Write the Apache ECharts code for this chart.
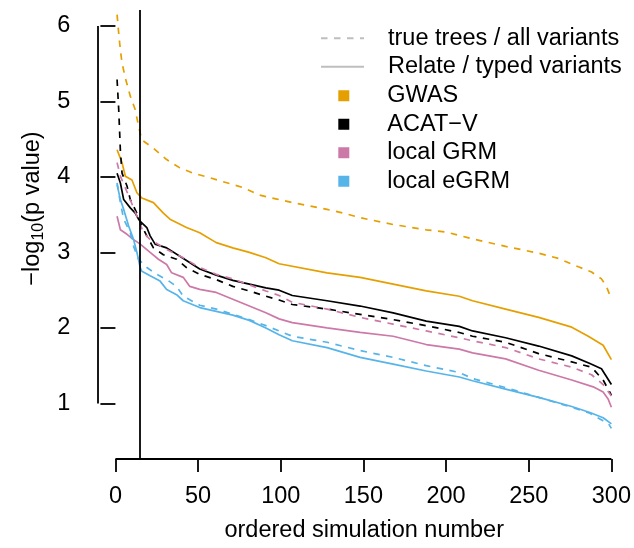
<!DOCTYPE html>
<html>
<head>
<meta charset="utf-8">
<script src="https://cdn.jsdelivr.net/npm/echarts@6/dist/echarts.min.js"></script>
<style>
html, body { margin: 0; padding: 0; background: #fff; }
#show { width: 634px; height: 548px; }
</style>
</head>
<body>
<div id="show"></div>
<script>
var myChart = echarts.init(document.getElementById("show"));

// values: [ordered simulation number, -log10(p)]
var gwasTrue = [[1,6.15],[2,5.90],[3,5.68],[4,5.51],[6,5.31],[9,5.07],[12,4.89],[14,4.67],[16,4.49],[23,4.38],[31,4.23],[39,4.12],[47,4.05],[57,3.99],[77,3.86],[87,3.76],[97,3.71],[107,3.66],[128,3.57],[138,3.52],[148,3.46],[168,3.37],[188,3.30],[200,3.27],[216,3.18],[236,3.08],[256,2.99],[268,2.92],[280,2.81],[288,2.74],[294,2.65],[297,2.55],[300,2.38]];
var gwasRelate = [[1,4.36],[4,4.19],[6,4.01],[10,3.96],[13,3.79],[16,3.72],[23,3.66],[29,3.52],[33,3.44],[43,3.33],[51,3.26],[61,3.13],[71,3.06],[81,3.00],[91,2.93],[99,2.85],[128,2.73],[148,2.67],[168,2.58],[188,2.49],[208,2.42],[216,2.36],[236,2.25],[256,2.14],[276,2.01],[286,1.89],[295,1.77],[300,1.58]];
var acatTrue = [[1,5.29],[2,4.89],[3,4.35],[4,4.05],[7,3.88],[9,3.70],[13,3.52],[16,3.35],[19,3.22],[23,3.06],[29,2.97],[37,2.91],[43,2.80],[51,2.71],[61,2.64],[71,2.55],[81,2.49],[91,2.42],[99,2.37],[107,2.31],[128,2.25],[148,2.18],[168,2.11],[188,2.03],[208,1.94],[216,1.89],[236,1.81],[256,1.66],[276,1.55],[288,1.48],[295,1.31],[300,1.11]];
var acatRelate = [[1,4.05],[3,3.92],[5,3.70],[9,3.59],[12,3.52],[14,3.44],[16,3.39],[19,3.33],[21,3.22],[24,3.11],[31,3.06],[39,2.95],[51,2.78],[61,2.70],[71,2.63],[81,2.58],[91,2.53],[99,2.50],[107,2.43],[128,2.36],[148,2.29],[168,2.20],[188,2.09],[208,2.02],[216,1.96],[236,1.87],[256,1.76],[276,1.63],[287,1.53],[294,1.46],[298,1.32],[300,1.25]];
var grmTrue = [[1,4.19],[3,4.01],[8,3.75],[13,3.48],[17,3.26],[21,3.17],[31,3.04],[41,2.93],[51,2.80],[61,2.71],[71,2.65],[81,2.57],[91,2.49],[99,2.43],[107,2.34],[128,2.25],[148,2.14],[168,2.05],[188,1.96],[208,1.87],[216,1.83],[236,1.74],[256,1.59],[276,1.48],[288,1.38],[295,1.25],[300,1.10]];
var grmRelate = [[1,3.48],[3,3.30],[7,3.24],[11,3.17],[15,3.11],[21,3.00],[26,2.91],[31,2.84],[34,2.73],[41,2.67],[45,2.55],[51,2.51],[61,2.47],[71,2.38],[81,2.29],[91,2.20],[99,2.12],[107,2.07],[128,2.00],[148,1.94],[168,1.89],[188,1.78],[208,1.72],[216,1.67],[236,1.59],[256,1.44],[276,1.31],[289,1.22],[295,1.15],[298,1.06],[300,0.95]];
var egrmTrue = [[1,3.92],[3,3.66],[5,3.44],[9,3.26],[11,3.08],[14,2.91],[19,2.80],[25,2.71],[31,2.64],[37,2.55],[41,2.42],[51,2.30],[61,2.25],[71,2.18],[81,2.11],[91,2.03],[99,1.96],[107,1.89],[128,1.81],[148,1.70],[168,1.61],[188,1.50],[208,1.41],[216,1.33],[236,1.21],[256,1.08],[276,0.95],[287,0.87],[295,0.77],[298,0.74],[300,0.67]];
var egrmRelate = [[1,3.90],[3,3.70],[5,3.57],[8,3.35],[11,3.17],[13,3.00],[15,2.80],[16,2.75],[21,2.69],[27,2.62],[31,2.51],[37,2.44],[41,2.36],[51,2.27],[61,2.22],[71,2.17],[81,2.10],[91,2.00],[99,1.91],[107,1.83],[128,1.74],[148,1.61],[168,1.52],[188,1.43],[208,1.35],[216,1.30],[236,1.19],[256,1.08],[276,0.96],[287,0.88],[295,0.81],[300,0.73]];

var methods = ["GWAS", "ACAT\u2212V", "local GRM", "local eGRM"];
var colors = ["#E69F00", "#000000", "#CC79A7", "#56B4E9"];
var trueRuns = [gwasTrue, acatTrue, grmTrue, egrmTrue];
var relateRuns = [gwasRelate, acatRelate, grmRelate, egrmRelate];
var lineKinds = ["true trees / all variants", "Relate / typed variants"];
var xTicks = [0, 50, 100, 150, 200, 250, 300];
var yTicks = [1, 2, 3, 4, 5, 6];
var cutoff = 15;

// plot region as R pads it (4% each side)
var xMin = -10.96, xMax = 311.96;
var yMin = 0.264, yMax = 6.211;

var font = "'Liberation Sans', Arial, Helvetica, sans-serif";
var fs = 23.5;
var dash = [6.5, 6.5];
var lw = 1.7;
var grey = '#BEBEBE';

var series = [];

series.push({
    name: lineKinds[0], type: 'line', data: [], symbol: 'none',
    itemStyle: { color: grey },
    lineStyle: { color: grey, type: dash, width: lw }
});
series.push({
    name: lineKinds[1], type: 'line', data: [], symbol: 'none',
    itemStyle: { color: grey },
    lineStyle: { color: grey, type: 'solid', width: lw }
});

for (var i = 0; i < methods.length; i++) {
    series.push({
        name: methods[i], type: 'line', data: trueRuns[i],
        symbol: 'none', silent: true,
        itemStyle: { color: colors[i] },
        lineStyle: { color: colors[i], type: dash, width: lw }
    });
    series.push({
        name: methods[i], type: 'line', data: relateRuns[i],
        symbol: 'none', silent: true,
        itemStyle: { color: colors[i] },
        lineStyle: { color: colors[i], type: 'solid', width: lw }
    });
}

// axes lines (R style, only between the outer ticks) and the cut-off line
series.push({
    name: 'axes', type: 'line', data: [], clip: false, silent: true,
    markLine: {
        silent: true, symbol: ['none', 'none'], animation: false,
        label: { show: false },
        lineStyle: { color: '#000', type: 'solid', width: 1.8 },
        data: [
            [{ coord: [xMin, yTicks[0]] }, { coord: [xMin, yTicks[yTicks.length - 1]] }],
            [{ coord: [xTicks[0], yMin] }, { coord: [xTicks[xTicks.length - 1], yMin] }],
            { xAxis: cutoff }
        ]
    }
});

myChart.setOption({
    animation: false,
    grid: { left: 97.3, right: 1.8, top: 10, bottom: 88 },
    legend: [
        {
            data: lineKinds.map(function (k) {
                return { name: k, itemStyle: { color: 'transparent', borderWidth: 0, opacity: 0 } };
            }),
            orient: 'vertical', left: 320, top: 24, padding: 0,
            itemWidth: 43, itemHeight: 14, itemGap: 0,
            selectedMode: false,
            textStyle: { fontFamily: font, fontSize: fs, color: '#000', lineHeight: 28.5, padding: [0, 0, 0, 19] }
        },
        {
            data: methods.map(function (m, k) {
                return { name: m, icon: 'rect', itemStyle: { color: colors[k] } };
            }),
            orient: 'vertical', left: 338.3, top: 81.5, padding: 0,
            itemWidth: 11, itemHeight: 11, itemGap: 0,
            selectedMode: false,
            textStyle: { fontFamily: font, fontSize: fs, color: '#000', lineHeight: 28.5, padding: [0, 0, 0, 33] }
        }
    ],
    xAxis: {
        type: 'value', min: xMin, max: xMax,
        name: 'ordered simulation number', nameLocation: 'middle', nameGap: 60,
        nameTextStyle: { fontFamily: font, fontSize: fs, color: '#000' },
        axisLine: { show: false },
        splitLine: { show: false },
        axisTick: { show: true, length: 13, customValues: xTicks, lineStyle: { color: '#000', width: 1.8 } },
        axisLabel: { customValues: xTicks, margin: 26, fontFamily: font, fontSize: fs, color: '#000' }
    },
    yAxis: {
        type: 'value', min: yMin, max: yMax,
        name: '{a|\u2212log}{b|10}{a|(p value)}', nameLocation: 'middle', nameGap: 50,
        nameTextStyle: {
            fontFamily: font, fontSize: fs, color: '#000',
            padding: [0, 0, 0, 52],
            rich: {
                a: { fontFamily: font, fontSize: fs, color: '#000' },
                b: { fontFamily: font, fontSize: 16, color: '#000', verticalAlign: 'bottom', padding: [12, 0, 0, 0] }
            }
        },
        axisLine: { show: false },
        splitLine: { show: false },
        axisTick: { show: true, length: 15, customValues: yTicks, lineStyle: { color: '#000', width: 1.8 } },
        axisLabel: { customValues: yTicks, margin: 27, fontFamily: font, fontSize: fs, color: '#000' }
    },
    series: series
});
</script>
</body>
</html>
